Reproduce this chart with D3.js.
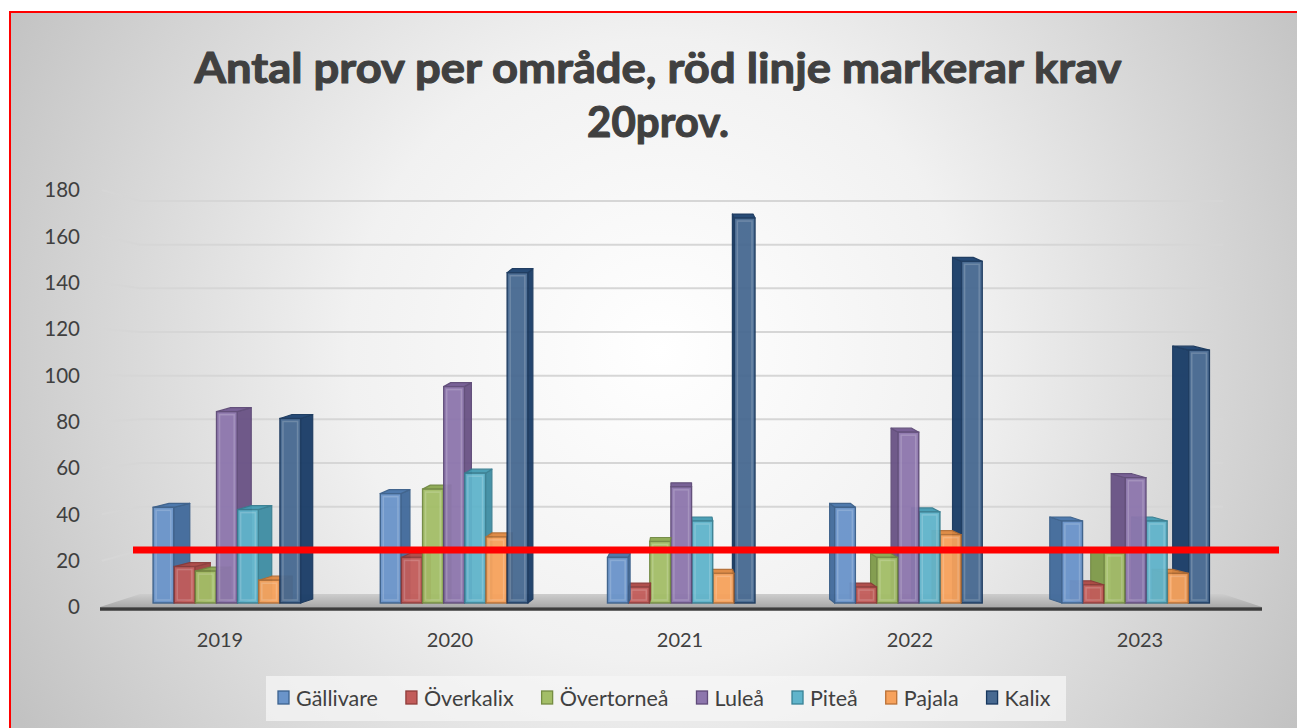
<!DOCTYPE html>
<html>
<head>
<meta charset="utf-8">
<script src="https://cdn.jsdelivr.net/npm/d3@7/dist/d3.min.js"></script>
<style>
  html, body { margin: 0; padding: 0; background: #ffffff; }
  svg { display: block; }
  text { font-family: Lato, "Open Sans", "DejaVu Sans", sans-serif; }
</style>
</head>
<body>
<svg id="chart" width="1297" height="728"></svg>
<script>
// ---------------- data ----------------
const years = ["2019", "2020", "2021", "2022", "2023"];
const seriesNames = ["Gällivare", "Överkalix", "Övertorneå", "Luleå", "Piteå", "Pajala", "Kalix"];
const gallivare  = [42, 48, 20, 42, 36];
const overkalix  = [16, 20, 7, 7, 8];
const overtornea = [14, 50, 27, 20, 22];
const lulea      = [84, 95, 51, 75, 55];
const pitea      = [41, 57, 36, 40, 36];
const pajala     = [10, 29, 13, 30, 13];
const kalix      = [81, 145, 169, 150, 111];
const yTicks = [0, 20, 40, 60, 80, 100, 120, 140, 160, 180];
const requirementLevel = 23.3;   // red line as drawn in the picture
const titleLines = ["Antal prov per område, röd linje markerar krav", "20prov."];

const seriesValues = [gallivare, overkalix, overtornea, lulea, pitea, pajala, kalix];
const seriesColors = ["#4F81BD", "#C0504D", "#9BBB59", "#8064A2", "#4BACC6", "#F79646", "#1F497D"];
const frontColors  = ["#6a94ca", "#c25c5a", "#a3be67", "#8d76ad", "#60b4cb", "#f7a25c", "#476991"];

const table = [];
years.forEach((yr, i) => seriesNames.forEach((s, j) => table.push({year: yr, series: s, si: j, value: seriesValues[j][i]})));

// ---------------- setup ----------------
const svg = d3.select("#chart");
const defs = svg.append("defs");

const bg = defs.append("radialGradient").attr("id", "bg")
  .attr("gradientUnits", "userSpaceOnUse").attr("cx", 660).attr("cy", 350).attr("r", 740);
bg.append("stop").attr("offset", "0").attr("stop-color", "#ffffff");
bg.append("stop").attr("offset", "0.42").attr("stop-color", "#f1f1f1");
bg.append("stop").attr("offset", "1").attr("stop-color", "#c2c2c2");

const fl = defs.append("linearGradient").attr("id", "floor").attr("x1", 0).attr("y1", 0).attr("x2", 0).attr("y2", 1);
fl.append("stop").attr("offset", "0").attr("stop-color", "#cdcdcd");
fl.append("stop").attr("offset", "1").attr("stop-color", "#a9a9a9");

svg.append("rect").attr("x", 10).attr("y", 12).attr("width", 1300).attr("height", 730)
  .attr("fill", "url(#bg)").attr("stroke", "#ff0000").attr("stroke-width", 2);

// scales
const xLabel = d3.scaleBand().domain(years).range([105, 1255]);       // front edge projection
const x0 = d3.scaleBand().domain(years).range([113.5, 1249.5]);        // bar row projection
const x1 = d3.scaleBand().domain(seriesNames).range([0, 148]);
const yFront = d3.scaleLinear().domain([0, 180]).range([607, 190]);
const yBack  = d3.scaleLinear().domain([0, 180]).range([594, 201]);
const yBar   = d3.scaleLinear().domain([0, 180]).range([603, 193]);

const wallLeft = 102, wallCorner = 140, wallRight = 1223, floorRight = 1262;
const viewCenter = 681;

// ---------------- title ----------------
const titleG = svg.append("g");
titleLines.forEach((t, i) => {
  const tx = titleG.append("text").attr("x", 658).attr("y", i === 0 ? 83 : 137)
    .attr("text-anchor", "middle").attr("font-weight", "bold").attr("font-size", 42)
    .attr("fill", "#404040").attr("stroke", "#404040").attr("stroke-width", 1.1)
    .attr("stroke-linejoin", "round").text(t);
  const target = i === 0 ? 927 : 143;
  const w = tx.node().getComputedTextLength();
  if (Math.abs(w - target) > 4) tx.attr("textLength", target).attr("lengthAdjust", "spacingAndGlyphs");
});

// ---------------- gridlines (side wall + back wall) ----------------
const grid = svg.append("g");
yTicks.filter(v => v > 0).forEach(v => {
  grid.append("polyline")
    .attr("points", [[wallLeft, yFront(v)], [wallCorner, yBack(v)], [wallRight, yBack(v)]].map(p => p.join(",")).join(" "))
    .attr("fill", "none").attr("stroke", "#d6d6d6").attr("stroke-width", 2);
});

// y tick labels
svg.append("g").selectAll("text").data(yTicks).join("text")
  .attr("x", 80).attr("y", d => yFront(d)).attr("dy", "0.35em")
  .attr("text-anchor", "end").attr("font-size", 20.5).attr("fill", "#404040")
  .text(d => d);

// ---------------- floor ----------------
svg.append("polygon")
  .attr("points", [[wallLeft - 2, yFront(0)], [wallCorner, yBack(0)], [wallRight, yBack(0)], [floorRight, yFront(0)]].map(p => p.join(",")).join(" "))
  .attr("fill", "url(#floor)");
svg.append("line").attr("x1", wallLeft - 2).attr("x2", floorRight).attr("y1", yFront(0) + 2).attr("y2", yFront(0) + 2)
  .attr("stroke", "#3c3c3c").attr("stroke-width", 3.5);

// ---------------- bars ----------------
const barsG = svg.append("g");
const depthDy = 4;
years.forEach((yr, yi) => {
  const groupStart = x0(yr) + x0.bandwidth() / 2 - 74;
  let items = table.filter(d => d.year === yr);
  const groupCenter = x0(yr) + x0.bandwidth() / 2;
  const leftOfCenter = groupCenter < viewCenter;
  if (!leftOfCenter) items = items.slice().reverse();
  items.forEach(d => {
    const w = x1.bandwidth() - 0.5;
    const fx = groupStart + x1(d.series);
    const cx = fx + w / 2;
    const sw = (viewCenter - cx) * 0.031;   // visible side width (signed)
    const ty = yBar(d.value), by = yBar(0);
    const base = seriesColors[d.si];
    const front = frontColors[d.si];
    const dark = d3.color(base).darker(0.9).formatHex();
    const sideCol = d3.color(base).darker(0.55).formatHex();
    const g = barsG.append("g").attr("opacity", 0.95);
    const sx = sw >= 0 ? fx + w : fx;
    if (Math.abs(sw) > 0.8) {
      g.append("polygon")
        .attr("points", [[sx, ty], [sx + sw, ty - depthDy], [sx + sw, by - depthDy], [sx, by]].map(p => p.join(",")).join(" "))
        .attr("fill", sideCol).attr("stroke", dark).attr("stroke-width", 1.2).attr("stroke-linejoin", "round");
    }
    g.append("polygon")
      .attr("points", [[fx, ty], [fx + w, ty], [fx + w + sw, ty - depthDy], [fx + sw, ty - depthDy]].map(p => p.join(",")).join(" "))
      .attr("fill", d3.color(base).darker(0.3).formatHex()).attr("stroke", dark).attr("stroke-width", 1.2).attr("stroke-linejoin", "round");
    g.append("rect").attr("x", fx).attr("y", ty).attr("width", w).attr("height", by - ty)
      .attr("fill", front).attr("stroke", dark).attr("stroke-width", 1.4);
    if (by - ty > 8) {
      g.append("rect").attr("x", fx + 3).attr("y", ty + 3).attr("width", w - 6).attr("height", by - ty - 6)
        .attr("fill", "none").attr("stroke", "#ffffff").attr("stroke-opacity", 0.18).attr("stroke-width", 1.5);
    }
  });
});

// ---------------- year labels ----------------
svg.append("g").selectAll("text").data(years).join("text")
  .attr("x", d => xLabel(d) + xLabel.bandwidth() / 2).attr("y", 647)
  .attr("text-anchor", "middle").attr("font-size", 20).attr("fill", "#404040")
  .text(d => d);

// ---------------- red requirement line ----------------
svg.append("line").attr("x1", 133).attr("x2", 1279)
  .attr("y1", yBar(requirementLevel)).attr("y2", yBar(requirementLevel))
  .attr("stroke", "#ff0000").attr("stroke-width", 7);

// ---------------- legend ----------------
const legG = svg.append("g");
legG.append("rect").attr("x", 266).attr("y", 676).attr("width", 800).attr("height", 45)
  .attr("fill", "#f6f6f6").attr("fill-opacity", 0.75);
let lx = 278;
seriesNames.forEach((s, i) => {
  legG.append("rect").attr("x", lx).attr("y", 691).attr("width", 11).attr("height", 13)
    .attr("fill", frontColors[i]).attr("stroke", d3.color(seriesColors[i]).darker(0.8).formatHex()).attr("stroke-width", 1.3);
  const t = legG.append("text").attr("x", lx + 18).attr("y", 698).attr("dy", "0.35em")
    .attr("font-size", 21.5).attr("fill", "#404040").text(s);
  lx += 18 + t.node().getComputedTextLength() + 28;
});
</script>
</body>
</html>
